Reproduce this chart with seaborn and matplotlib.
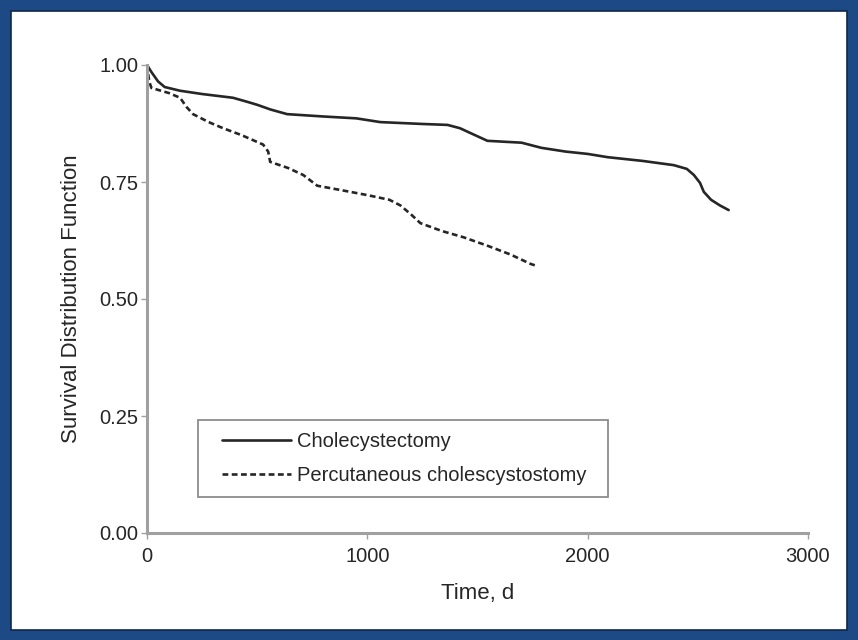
import matplotlib
matplotlib.use("Agg")
import matplotlib.pyplot as plt
import seaborn as sns
import pandas as pd
from matplotlib.patches import Rectangle
from matplotlib.lines import Line2D
from matplotlib.legend_handler import HandlerLine2D

# Data
chole_time = [0, 20, 50, 80, 150, 250, 390, 450, 500, 560, 636, 800, 950, 1059,
              1250, 1364, 1420, 1480, 1545, 1700, 1790, 1900, 2000, 2091, 2250,
              2391, 2450, 2482, 2510, 2527, 2560, 2600, 2640]
chole_surv = [1.000, 0.985, 0.965, 0.953, 0.945, 0.938, 0.930, 0.922, 0.915, 0.905,
              0.895, 0.890, 0.886, 0.878, 0.874, 0.872, 0.865, 0.852, 0.838, 0.834,
              0.823, 0.815, 0.810, 0.803, 0.795, 0.786, 0.778, 0.765, 0.748, 0.729,
              0.712, 0.700, 0.690]
perc_time = [0, 10, 20, 100, 150, 180, 209, 280, 345, 430, 527, 550, 559, 640, 709,
             773, 877, 1000, 1100, 1150, 1200, 1241, 1340, 1436, 1550, 1650, 1741, 1760]
perc_surv = [1.000, 0.965, 0.951, 0.940, 0.930, 0.910, 0.895, 0.878, 0.865, 0.850,
             0.830, 0.815, 0.793, 0.780, 0.765, 0.742, 0.733, 0.722, 0.712, 0.700,
             0.680, 0.662, 0.645, 0.632, 0.613, 0.595, 0.575, 0.572]
series_labels = ["Cholecystectomy", "Percutaneous cholescystostomy"]
x_ticks = [0, 1000, 2000, 3000]
y_ticks = [0.00, 0.25, 0.50, 0.75, 1.00]
y_tick_labels = ["0.00", "0.25", "0.50", "0.75", "1.00"]

sns.set_style("white")
plt.rcParams['font.family'] = ['Liberation Sans Narrow', 'Liberation Sans', 'DejaVu Sans']

fig = plt.figure(figsize=(8.58, 6.4), dpi=100)
fig.patch.set_facecolor("#1d4a85")
# white panel inside the blue frame
fig.patches.append(Rectangle((11/858, 10/640), 1 - 22/858, 1 - 21/640,
                             transform=fig.transFigure, facecolor="white",
                             edgecolor="#10284a", linewidth=1.2, zorder=-10))

ax = fig.add_axes([147/858, 107/640, 661/858, 468/640])
ax.set_zorder(5)
ax.set_facecolor("none")

ink = "#262626"
df1 = pd.DataFrame({"t": chole_time, "s": chole_surv})
df2 = pd.DataFrame({"t": perc_time, "s": perc_surv})
sns.lineplot(data=df1, x="t", y="s", ax=ax, color=ink, lw=1.9,
             label=series_labels[0])
sns.lineplot(data=df2, x="t", y="s", ax=ax, color=ink, lw=1.9,
             linestyle=(0, (2.2, 1.3)), label=series_labels[1])

ax.set_xlim(0, 3000)
ax.set_ylim(0, 1.0)
ax.set_xticks(x_ticks)
ax.set_yticks(y_ticks)
ax.set_yticklabels(y_tick_labels)
for side in ["top", "right"]:
    ax.spines[side].set_visible(False)
for side in ["left", "bottom"]:
    ax.spines[side].set_color("#a0a0a0")
    ax.spines[side].set_linewidth(2.2)
ax.tick_params(axis="both", direction="out", length=4, width=1, color="#a0a0a0",
               labelsize=14.5, labelcolor=ink, bottom=True, left=True)
ax.tick_params(axis="y", pad=2)
ax.tick_params(axis="x", pad=6)
ax.set_xlabel("Time, d", fontsize=16, color=ink, labelpad=12)
ax.set_ylabel("Survival Distribution Function", fontsize=16, color=ink, labelpad=13)
ax.margins(0)

leg = ax.legend(loc="lower left", bbox_to_anchor=(0.077, 0.077, 0.62, 0.169),
                mode="expand", fontsize=14.5, frameon=True, fancybox=False,
                handlelength=4.0, handletextpad=0.3, labelspacing=0.75,
                borderpad=0.6, borderaxespad=0,
                handler_map={Line2D: HandlerLine2D(xpad=0.6)})
leg.get_frame().set_edgecolor("#707070")
leg.get_frame().set_linewidth(1.3)
for t in leg.get_texts():
    t.set_color(ink)

fig.savefig("out.png", dpi=100, facecolor=fig.get_facecolor())
